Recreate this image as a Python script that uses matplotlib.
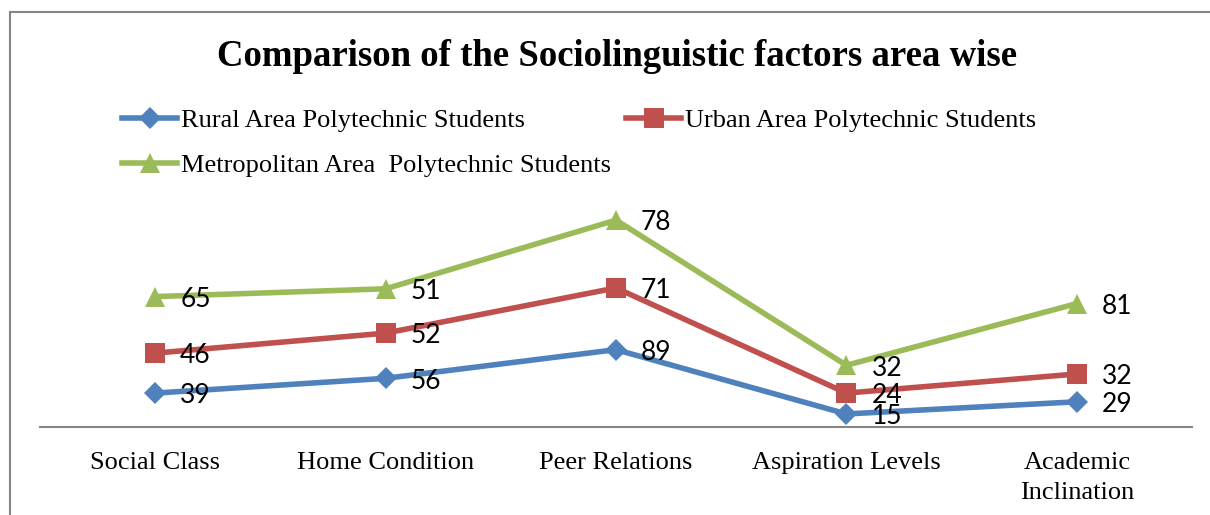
import numpy as np
import matplotlib.pyplot as plt
from matplotlib.patches import Rectangle

categories = ["Social Class", "Home Condition", "Peer Relations", "Aspiration Levels", "Academic\nInclination"]
rural = [39, 56, 89, 15, 29]
urban = [46, 52, 71, 24, 32]
metro = [65, 51, 78, 32, 81]

names = ["Rural Area Polytechnic Students", "Urban Area Polytechnic Students",
         "Metropolitan Area  Polytechnic Students"]
colors = ["#4F81BD", "#C0504D", "#9BBB59"]
markers = ["D", "s", "^"]
msizes = [11, 15, 15]

serif = "Liberation Serif"

fig = plt.figure(figsize=(12.1, 5.15), dpi=100)
W, H = 1210, 515
ax = fig.add_axes([40 / W, (H - 427) / H, (1192 - 40) / W, (427 - 201) / H])

# chart border (cut off at right and bottom like the source)
fig.patches.append(Rectangle((10 / W, -0.1), 1.2, 1 - 12 / H + 0.1, transform=fig.transFigure,
                             fill=False, edgecolor="#878787", linewidth=1.5))

x = np.arange(len(categories))
series = [rural, urban, metro]
stacked = np.cumsum(np.array(series), axis=0)

lines = []
for i, vals in enumerate(series):
    ln, = ax.plot(x, stacked[i], color=colors[i], lw=4, marker=markers[i],
                  markersize=msizes[i], markeredgewidth=0, label=names[i], zorder=3)
    lines.append(ln)
    for xi, yi, v in zip(x, stacked[i], vals):
        ax.annotate(str(v), (xi, yi), xytext=(18, -2), textcoords="offset points",
                    ha="left", va="center", fontsize=19, family="Lato", color="#000000")

ax.set_xlim(-0.5, 4.5)
ax.set_ylim(0, 260)
ax.set_xticks(x)
ax.set_xticklabels(categories, family=serif, fontsize=19, linespacing=1.45)
ax.tick_params(axis="x", length=0, pad=18)
ax.set_yticks([])
for s in ["top", "right", "left"]:
    ax.spines[s].set_visible(False)
ax.spines["bottom"].set_color("#868686")
ax.spines["bottom"].set_linewidth(1.5)

fig.text(617 / W, 1 - 57 / H, "Comparison of the Sociolinguistic factors area wise",
         ha="center", va="center", fontsize=26.5, fontweight="bold", family=serif)

fig.legend([lines[0], lines[2], lines[1]], [names[0], names[2], names[1]], ncol=2,
           loc="upper left", bbox_to_anchor=(122 / W, 1 - 109 / H), frameon=False,
           prop={"family": serif, "size": 19}, handlelength=2.1, handletextpad=0.15,
           columnspacing=0.55, labelspacing=0.8, borderpad=0, borderaxespad=0)

fig.savefig("out.png", dpi=100)
